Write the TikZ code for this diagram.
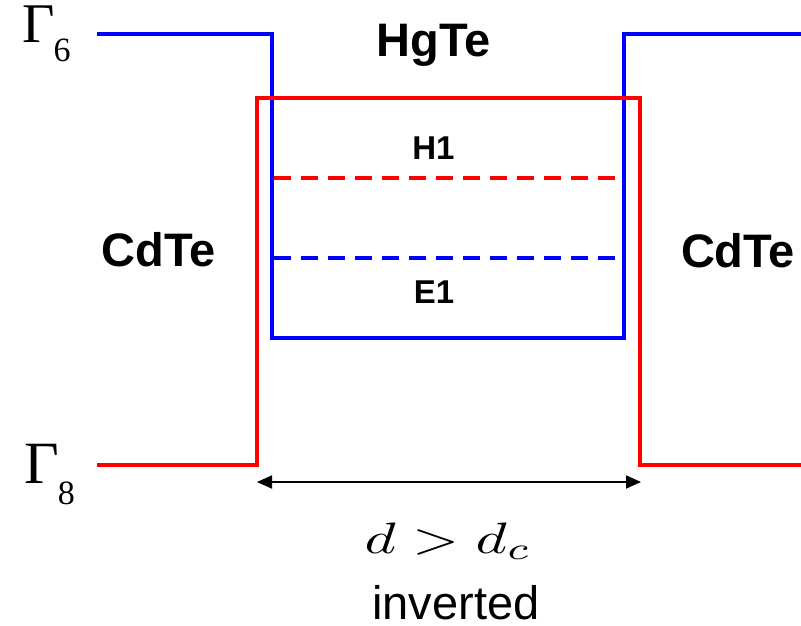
\documentclass[tikz,border=0pt]{standalone}
\usepackage{graphicx}
\usepackage{fontspec}
\setmainfont{Liberation Sans}
\newfontfamily\seriffont{Liberation Serif}
\usetikzlibrary{arrows.meta}
\tikzset{
  band/.style={line width=4.5pt, line join=miter},
  cband/.style={band, blue},
  vband/.style={band, red},
  level/.style={line width=3.5pt, dash pattern=on 17pt off 10pt},
  boldlbl/.style={font=\bfseries\fontsize{47}{47}\selectfont, inner sep=0pt, anchor=base},
  smalllbl/.style={font=\bfseries\fontsize{33}{33}\selectfont, inner sep=0pt, anchor=base},
  gammalbl/.style={inner sep=0pt, anchor=base west, font=\seriffont\fontsize{56}{56}\selectfont},
}
\begin{document}
\begin{tikzpicture}[x=1pt,y=-1pt]
\useasboundingbox (0,0) rectangle (801,626);
% conduction-like band (Gamma6)
\draw[cband] (97,34) -- (272,34) -- (272,338) -- (624,338) -- (624,34) -- (801,34);
% valence-like band (Gamma8)
\draw[vband] (97,465) -- (257,465) -- (257,98) -- (640,98) -- (640,465) -- (801,465);
% subbands
\draw[level, red] (274,178) -- (622,178);
\draw[level, blue] (274,258) -- (622,258);
% width arrow
\coordinate (aL) at (257,482);
\coordinate (aR) at (641,482);
\draw[line width=1.8pt, {Triangle[length=15pt,width=13pt]}-{Triangle[length=15pt,width=13pt]}] (aL) -- (aR);
% labels
\node[gammalbl] (g6) at (22,43) {Γ\kern-1pt\raisebox{-19pt}{\fontsize{34}{34}\selectfont 6}};
\node[gammalbl, font=\seriffont\fontsize{60}{60}\selectfont] (g8) at (24,483) {Γ\kern-1pt\raisebox{-21pt}{\fontsize{34}{34}\selectfont 8}};
\node[boldlbl] (hgte) at (433.5,57) {HgTe};
\node[boldlbl] (cdl) at (159,266) {CdTe};
\node[boldlbl] (cdr) at (738,267) {CdTe};
\node[smalllbl] (h1) at (433.5,159) {H1};
\node[smalllbl] (e1) at (434,303) {E1};
\node[inner sep=0pt, anchor=base] (d) at (448,553) {\scalebox{6}[4.4]{$d > d_c$}};
\node[inner sep=0pt, anchor=base, font=\fontsize{47}{47}\selectfont] (inv) at (456,619) {inverted};
\end{tikzpicture}
\end{document}
